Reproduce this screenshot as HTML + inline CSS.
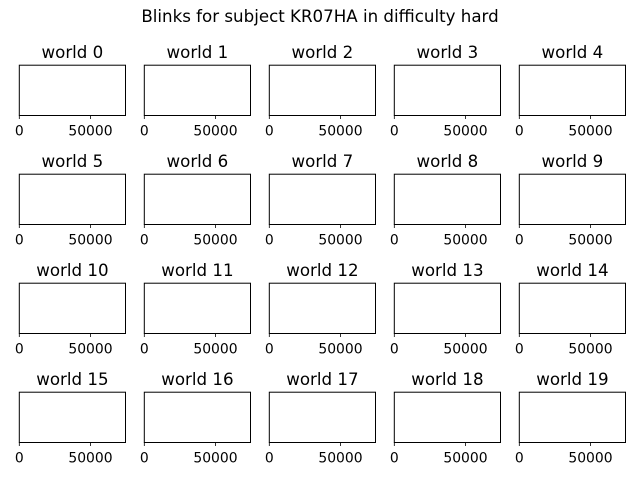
<!DOCTYPE html>
<html><head><meta charset="utf-8"><style>
body{margin:0;background:#fff}
svg{display:block;font-family:"DejaVu Sans","Liberation Sans",sans-serif}
</style></head><body>
<svg id="c" width="640" height="480" xmlns="http://www.w3.org/2000/svg">
<text x="320" y="22" text-anchor="middle" font-size="16.67">Blinks for subject KR07HA in difficulty hard</text>
</svg>
<script>
const worlds = ["world 0","world 1","world 2","world 3","world 4","world 5","world 6","world 7","world 8","world 9","world 10","world 11","world 12","world 13","world 14","world 15","world 16","world 17","world 18","world 19"];
const xTicks = [0, 50000];
const xTickLabels = ["0", "50000"];
const xMax = 74600;
const svg = document.getElementById('c');
const NS = 'http://www.w3.org/2000/svg';
function mk(tag, attrs){const e=document.createElementNS(NS,tag);for(const k in attrs)e.setAttribute(k,attrs[k]);return e;}
const W = 106.2, H = 50.3;
worlds.forEach((name, i) => {
  const col = i % 5, row = Math.floor(i / 5);
  const x0 = 19.3 + col * 125, y0 = 65.2 + row * 109;
  const g = mk('g', {});
  
  
  const sx = v => x0 + v / xMax * W;
  const rect = mk('rect', {x:x0, y:y0, width:W, height:H, fill:'#fff', stroke:'#000', 'stroke-width':1});
  
  
  g.appendChild(rect);
  const t = mk('text', {x:x0 + W/2, y:y0 - 7, 'text-anchor':'middle', 'font-size':16.67});
  
  
  t.textContent = name;
  g.appendChild(t);
  xTicks.forEach((v, j) => {
    const tk = mk('line', {x1:sx(v), x2:sx(v), y1:y0+H, y2:y0+H+3.5, stroke:'#000', 'stroke-width':0.8});
    
    
    g.appendChild(tk);
    const lb = mk('text', {x:sx(v), y:y0+H+20, 'text-anchor':'middle', 'font-size':13.9});
    
    
    lb.textContent = xTickLabels[j];
    g.appendChild(lb);
  });
  svg.appendChild(g);
});
</script>
</body></html>
